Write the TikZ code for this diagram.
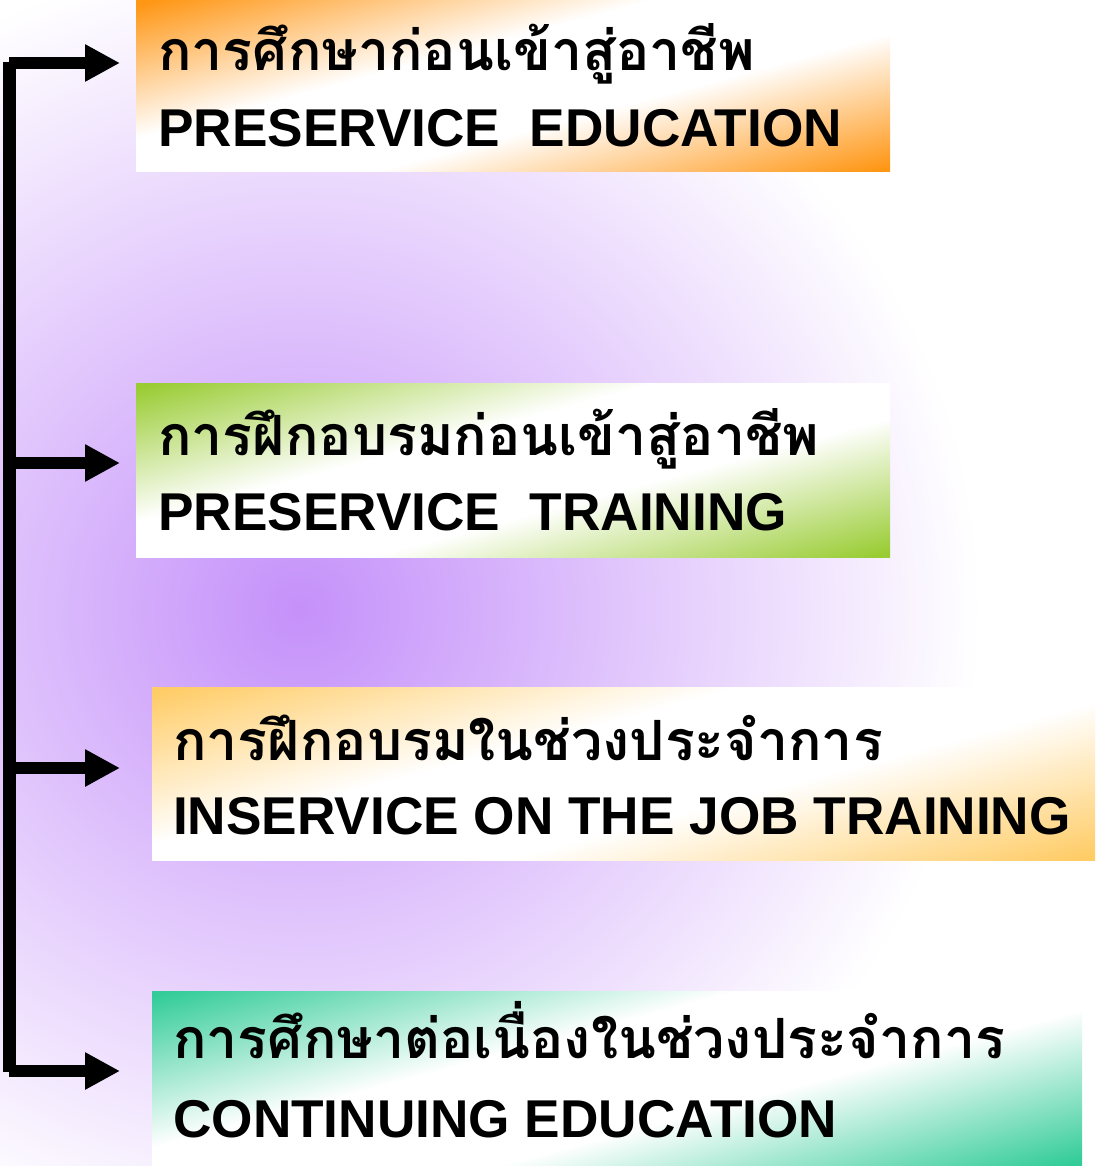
\documentclass[tikz,border=0pt]{standalone}
\usepackage{fontspec}
\setmainfont{Liberation Sans}
\newfontfamily\thaifont[Script=Thai]{Loma}
\usetikzlibrary{arrows.meta}
\definecolor{glow}{RGB}{197,145,250}
\definecolor{cOrange}{RGB}{255,150,20}
\definecolor{cGreen}{RGB}{153,204,51}
\definecolor{cYellow}{RGB}{255,204,102}
\definecolor{cTeal}{RGB}{51,204,153}
\pgfdeclareverticalshading{bandO}{100bp}{color(0bp)=(cOrange); color(20bp)=(cOrange); color(42bp)=(white); color(58bp)=(white); color(80bp)=(cOrange); color(100bp)=(cOrange)}
\pgfdeclareverticalshading{bandG}{100bp}{color(0bp)=(cGreen); color(20bp)=(cGreen); color(42bp)=(white); color(58bp)=(white); color(80bp)=(cGreen); color(100bp)=(cGreen)}
\pgfdeclareverticalshading{bandY}{100bp}{color(0bp)=(cYellow); color(20bp)=(cYellow); color(42bp)=(white); color(58bp)=(white); color(80bp)=(cYellow); color(100bp)=(cYellow)}
\pgfdeclareverticalshading{bandT}{100bp}{color(0bp)=(cTeal); color(20bp)=(cTeal); color(42bp)=(white); color(58bp)=(white); color(80bp)=(cTeal); color(100bp)=(cTeal)}
\tikzset{
  box/.style={rectangle, inner sep=0pt, outer sep=0pt, anchor=north west, shading angle=15},
  thai/.style={anchor=base west, inner sep=0pt, font=\thaifont\bfseries\fontsize{55.5}{66}\selectfont},
  eng/.style={anchor=base west, inner sep=0pt, font=\bfseries\fontsize{53.2}{64}\selectfont},
  spine/.style={line width=13pt, line cap=butt},
  conn/.style={line width=12pt, line cap=butt, -{Triangle[length=35pt,width=35pt]}}
}
\begin{document}
\begin{tikzpicture}[x=1pt,y=-1pt]
\useasboundingbox (0,0) rectangle (1095,1166);
\fill[white] (0,0) rectangle (1095,1166);
\begin{scope}
\clip (0,0) rectangle (1095,1166);
\shade[inner color=glow, outer color=white] (300,610) ellipse [x radius=680, y radius=660];
\end{scope}
% boxes
\node[box, shading=bandO, minimum width=754pt, minimum height=172pt] (b1) at (136,0) {};
\node[box, shading=bandG, minimum width=754pt, minimum height=174pt] (b2) at (136,383) {};
\node[box, shading=bandY, minimum width=943pt, minimum height=173pt] (b3) at (152,687) {};
\node[box, shading=bandT, minimum width=930pt, minimum height=175pt] (b4) at (152,991) {};
% texts
\node[thai] (t1a) at (158,71) {การศึกษาก่อนเข้าสู่อาชีพ};
\node[eng] (t1b) at (158,147) {PRESERVICE\ \ EDUCATION};
\node[thai] (t2a) at (158,455) {การฝึกอบรมก่อนเข้าสู่อาชีพ};
\node[eng] (t2b) at (158,530) {PRESERVICE\ \ TRAINING};
\node[thai] (t3a) at (173,760) {การฝึกอบรมในช่วงประจำการ};
\node[eng] (t3b) at (173,834) {INSERVICE ON THE JOB TRAINING};
\node[thai] (t4a) at (173,1058) {การศึกษาต่อเนื่องในช่วงประจำการ};
\node[eng] (t4b) at (173,1137) {CONTINUING EDUCATION};
% connectors
\coordinate (top) at (9.5,62);
\coordinate (bot) at (9.5,1072);
\coordinate (s1) at (9,63);
\coordinate (s2) at (9,463);
\coordinate (s3) at (9,768);
\coordinate (s4) at (9,1071);
\coordinate (p1) at (120,63);
\coordinate (p2) at (120,463);
\coordinate (p3) at (120,768);
\coordinate (p4) at (120,1071);
\draw[spine] (top) -- (bot);
\draw[conn] (s1) -- (p1);
\draw[conn] (s2) -- (p2);
\draw[conn] (s3) -- (p3);
\draw[conn] (s4) -- (p4);
\end{tikzpicture}
\end{document}
